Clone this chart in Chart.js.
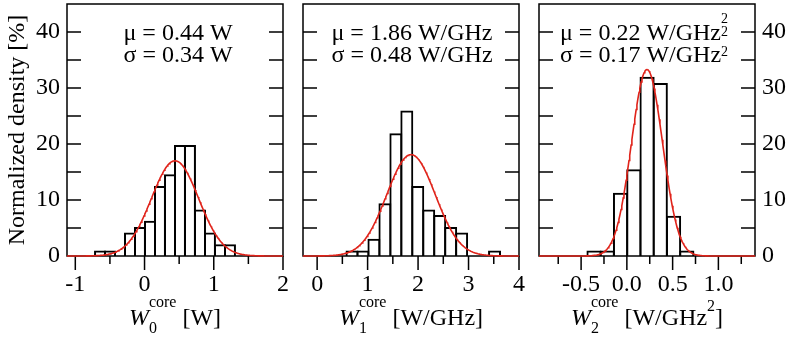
<!DOCTYPE html>
<html>
<head>
<meta charset="utf-8">
<script src="https://cdn.jsdelivr.net/npm/chart.js@4.4.1/dist/chart.umd.min.js"></script>
<style>
  body { margin: 0; background: #fff; }
  #wrap { position: relative; width: 788px; height: 340px; }
  canvas { position: absolute; top: 0; }
</style>
</head>
<body>
<div id="wrap">
  <canvas id="c0" width="293" height="340" style="left:0px"></canvas>
  <canvas id="c1" width="236" height="340" style="left:293px"></canvas>
  <canvas id="c2" width="259" height="340" style="left:529px"></canvas>
</div>
<script>
// histogram bin centres and normalized densities [%] of the three power coefficients
var binsW0 = [-0.643, -0.499, -0.354, -0.210, -0.066, 0.079, 0.223, 0.368, 0.512, 0.656, 0.801, 0.945, 1.090, 1.234];
var densW0 = [1.0, 1.0, 0, 4.2, 5.2, 6.3, 12.5, 14.6, 19.8, 19.8, 8.3, 4.2, 2.1, 2.1];
var binsW1 = [0.691, 0.908, 1.125, 1.343, 1.560, 1.777, 1.994, 2.211, 2.429, 2.646, 2.863, 3.080, 3.297, 3.515];
var densW1 = [1.0, 1.0, 3.1, 9.4, 21.9, 26.0, 12.5, 8.3, 7.3, 5.2, 4.2, 0, 0, 1.0];
var binsW2 = [-0.359, -0.214, -0.069, 0.076, 0.221, 0.365, 0.510, 0.655];
var densW2 = [1.0, 1.0, 11.3, 15.5, 32.0, 30.9, 7.2, 1.0];

// fitted normal distributions
var mu = [0.44, 1.86, 0.22];
var sigma = [0.34, 0.48, 0.17];
var peak = [17.0, 18.1, 33.3];

// axis ranges and tick spacing
var xMin = [-1.12, -0.28, -0.96];
var xMax = [2, 4, 1.4];
var xMajor = [1, 1, 0.5];
var xMinor = [0.5, 0.5, 0.25];
var yMax = 45;
var yStep = 10;
var yMinor = 5;

var FONT = '"Liberation Serif", "Times New Roman", serif';
var RED = '#e0231a';
var PLOT_W = 216;

function gaussCurve(i) {
  var pts = [];
  var n = 300;
  for (var k = 0; k <= n; k++) {
    var x = xMin[i] + (xMax[i] - xMin[i]) * k / n;
    var z = (x - mu[i]) / sigma[i];
    pts.push({ x: x, y: peak[i] * Math.exp(-0.5 * z * z) });
  }
  return pts;
}

function fontOf(p) {
  return (p.italic ? 'italic ' : '') + (p.size || 24) + 'px ' + FONT;
}

function partWidth(ctx, p) {
  var list = p.stack || [p];
  var w = 0;
  list.forEach(function (q) {
    ctx.font = fontOf(q);
    w = Math.max(w, ctx.measureText(q.t).width);
  });
  return w;
}

// draws a line of text with sub/superscripts centred on cx
function drawRun(ctx, parts, cx, by) {
  var widths = parts.map(function (p) { return partWidth(ctx, p); });
  var x = cx - widths.reduce(function (a, b) { return a + b; }, 0) / 2;
  ctx.textAlign = 'left';
  ctx.textBaseline = 'alphabetic';
  ctx.fillStyle = '#000';
  parts.forEach(function (p, k) {
    (p.stack || [p]).forEach(function (q) {
      ctx.font = fontOf(q);
      ctx.fillText(q.t, x, by + (q.dy || 0));
    });
    x += widths[k];
  });
}

// box around the plot, inward y ticks, outward x ticks
var frame = {
  id: 'frame',
  beforeDatasetsDraw: function (chart, args, opts) {
    var a = chart.chartArea, ctx = chart.ctx;
    var xs = chart.scales.x, ys = chart.scales.y;
    ctx.save();
    ctx.strokeStyle = '#000';
    ctx.lineWidth = 1.5;
    ctx.strokeRect(a.left, a.top, a.right - a.left, a.bottom - a.top);
    ctx.beginPath();
    for (var v = yMinor; v < yMax; v += yMinor) {
      var py = ys.getPixelForValue(v);
      ctx.moveTo(a.left, py); ctx.lineTo(a.left + 14, py);
      ctx.moveTo(a.right, py); ctx.lineTo(a.right - 14, py);
    }
    var k0 = Math.ceil(xs.min / opts.minor - 1e-9);
    var k1 = Math.floor(xs.max / opts.minor + 1e-9);
    for (var k = k0; k <= k1; k++) {
      var val = k * opts.minor;
      var r = val / opts.major;
      var isMajor = Math.abs(r - Math.round(r)) < 1e-6;
      var px = xs.getPixelForValue(val);
      ctx.moveTo(px, a.bottom); ctx.lineTo(px, a.bottom + (isMajor ? 14 : 8));
    }
    ctx.stroke();
    ctx.restore();
  }
};

// fit parameters and axis title
var notes = {
  id: 'notes',
  afterDraw: function (chart, args, opts) {
    var a = chart.chartArea, ctx = chart.ctx;
    var cx = (a.left + a.right) / 2;
    ctx.save();
    opts.lines.forEach(function (ln) {
      drawRun(ctx, ln.parts, cx + (ln.dx || 0), ln.y);
    });
    ctx.restore();
  }
};

function sized(w, h) {
  return function (scale) {
    if (w !== null) scale.width = w;
    if (h !== null) scale.height = h;
    scale.paddingLeft = 0; scale.paddingRight = 0;
    scale.paddingTop = 0; scale.paddingBottom = 0;
  };
}

function panel(i, id, bins, dens, pad, yOpts, lines) {
  var binPx = (bins[1] - bins[0]) * PLOT_W / (xMax[i] - xMin[i]);
  new Chart(document.getElementById(id), {
    type: 'bar',
    data: {
      datasets: [{
        type: 'line',
        data: gaussCurve(i),
        borderColor: RED,
        borderWidth: 1.6,
        pointRadius: 0,
        tension: 0,
        clip: false,
        order: 0
      }, {
        type: 'bar',
        data: bins.map(function (b, k) { return { x: b, y: dens[k] }; }),
        backgroundColor: 'rgba(0,0,0,0)',
        borderColor: '#000',
        borderWidth: 2,
        borderSkipped: 'start',
        inflateAmount: 0,
        categoryPercentage: 1,
        barPercentage: 1 + 2 / binPx,
        order: 1
      }]
    },
    options: {
      responsive: false,
      animation: false,
      events: [],
      layout: { padding: pad },
      plugins: {
        legend: { display: false },
        tooltip: { enabled: false },
        frame: { minor: xMinor[i], major: xMajor[i] },
        notes: { lines: lines }
      },
      scales: {
        x: {
          type: 'linear',
          min: xMin[i],
          max: xMax[i],
          offset: false,
          afterFit: sized(null, 84),
          grid: { display: false, drawTicks: false },
          border: { display: false },
          ticks: {
            stepSize: xMajor[i],
            includeBounds: false,
            autoSkip: false,
            maxRotation: 0,
            padding: 14,
            color: '#000',
            font: { family: FONT, size: 24 },
            callback: function (v) { return xMajor[i] < 1 ? v.toFixed(1) : String(v); }
          }
        },
        y: Object.assign({
          type: 'linear',
          min: 0,
          max: yMax,
          grid: { display: false, drawTicks: false },
          border: { display: false },
          ticks: {
            stepSize: yStep,
            includeBounds: false,
            padding: 7,
            color: '#000',
            font: { family: FONT, size: 24 }
          }
        }, yOpts)
      }
    },
    plugins: [frame, notes]
  });
}

panel(0, 'c0', binsW0, densW0, { left: 0, top: 4, right: 10, bottom: 0 }, {
  position: 'left',
  afterFit: sized(67, null),
  title: {
    display: true,
    text: 'Normalized density [%]',
    color: '#000',
    font: { family: FONT, size: 24 },
    padding: { top: 3, bottom: 0 }
  }
}, [
  { y: 40, dx: 3, parts: [{ t: 'μ = 0.44 W' }] },
  { y: 62, dx: 3, parts: [{ t: 'σ = 0.34 W' }] },
  { y: 325, parts: [{ t: 'W', italic: true }, { stack: [{ t: 'core', size: 16, dy: -18 }, { t: '0', size: 16, dy: 8 }] }, { t: ' [W]' }] }
]);

panel(1, 'c1', binsW1, densW1, { left: 10, top: 4, right: 10, bottom: 0 }, {
  display: false
}, [
  { y: 40, dx: 1, parts: [{ t: 'μ = 1.86 W/GHz' }] },
  { y: 62, dx: 1, parts: [{ t: 'σ = 0.48 W/GHz' }] },
  { y: 325, parts: [{ t: 'W', italic: true }, { stack: [{ t: 'core', size: 16, dy: -18 }, { t: '1', size: 16, dy: 8 }] }, { t: ' [W/GHz]' }] }
]);

panel(2, 'c2', binsW2, densW2, { left: 10, top: 4, right: 0, bottom: 0 }, {
  position: 'right',
  afterFit: sized(33, null)
}, [
  { y: 40, dx: -3, parts: [{ t: 'μ = 0.22 W/GHz' }, { stack: [{ t: '2', size: 14, dy: -17 }, { t: '2', size: 14, dy: -4 }] }] },
  { y: 62, dx: -3, parts: [{ t: 'σ = 0.17 W/GHz' }, { t: '2', size: 14, dy: -6 }] },
  { y: 325, parts: [{ t: 'W', italic: true }, { stack: [{ t: 'core', size: 16, dy: -18 }, { t: '2', size: 16, dy: 8 }] }, { t: ' [W/GHz' }, { t: '2', size: 16, dy: -14 }, { t: ']' }] }
]);
</script>
</body>
</html>
